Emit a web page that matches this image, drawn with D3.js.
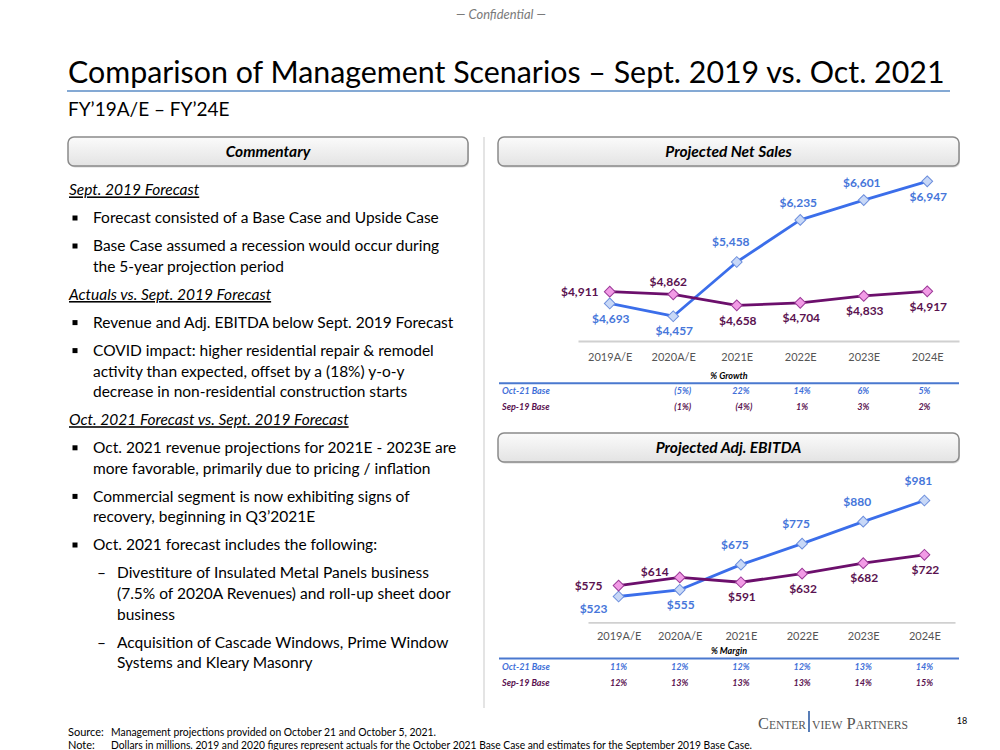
<!DOCTYPE html>
<html>
<head>
<meta charset="utf-8">
<script src="https://cdn.jsdelivr.net/npm/d3@7"></script>
<style>
  body { margin: 0; background: #fff; }
  svg { display: block; }
</style>
</head>
<body>
<script>
// ---- data ----
const years = ["2019A/E", "2020A/E", "2021E", "2022E", "2023E", "2024E"];
const salesOct21 = [4693, 4457, 5458, 6235, 6601, 6947];
const salesSep19 = [4911, 4862, 4658, 4704, 4833, 4917];
const ebitdaOct21 = [523, 555, 675, 775, 880, 981];
const ebitdaSep19 = [575, 614, 591, 632, 682, 722];
const growthOct21 = ["", "(5%)", "22%", "14%", "6%", "5%"];
const growthSep19 = ["", "(1%)", "(4%)", "1%", "3%", "2%"];
const marginOct21 = ["11%", "12%", "12%", "12%", "13%", "14%"];
const marginSep19 = ["12%", "13%", "13%", "13%", "14%", "15%"];
const rowLabels = ["Oct-21 Base", "Sep-19 Base"];

const commentary = [
  ["h", "Sept. 2019 Forecast"],
  ["b", "Forecast consisted of a Base Case and Upside Case"],
  ["b", "Base Case assumed a recession would occur during"],
  ["c", "the 5-year projection period"],
  ["h", "Actuals vs. Sept. 2019 Forecast"],
  ["b", "Revenue and Adj. EBITDA below Sept. 2019 Forecast"],
  ["b", "COVID impact: higher residential repair & remodel"],
  ["c", "activity than expected, offset by a (18%) y-o-y"],
  ["c", "decrease in non-residential construction starts"],
  ["h", "Oct. 2021 Forecast vs. Sept. 2019 Forecast"],
  ["b", "Oct. 2021 revenue projections for 2021E - 2023E are"],
  ["c", "more favorable, primarily due to pricing / inflation"],
  ["b", "Commercial segment is now exhibiting signs of"],
  ["c", "recovery, beginning in Q3\u20192021E"],
  ["b", "Oct. 2021 forecast includes the following:"],
  ["s", "Divestiture of Insulated Metal Panels business"],
  ["sc", "(7.5% of 2020A Revenues) and roll-up sheet door"],
  ["sc", "business"],
  ["s", "Acquisition of Cascade Windows, Prime Window"],
  ["sc", "Systems and Kleary Masonry"]
];

// label placement for each point (layout only)
const place = {
  above: [-2, -17], aboveL: [-6, -20], aboveFar: [-25, -6], aboveS: [-5, -13],
  below: [1, 15], belowL: [-25, 12], left: [-30, 0]
};
const salesOctPos = ["below", "below", "aboveL", "above", "above", "below"];
const salesSepPos = ["left", "aboveS", "below", "below", "below", "below"];
const ebitdaOctPos = ["belowL", "below", "aboveL", "aboveL", "aboveL", "aboveL"];
const ebitdaSepPos = ["left", "aboveFar", "below", "below", "below", "below"];

const blue = "#3B6EEA", blueText = "#4676DA", purple = "#6C0F6C", purpleText = "#5A1250";
const font = "Lato, 'Open Sans', sans-serif";

const svg = d3.select("body").append("svg")
  .attr("width", 1000).attr("height", 750)
  .style("font-family", font);

const defs = svg.append("defs");
const grad = defs.append("linearGradient").attr("id", "hdr")
  .attr("x1", 0).attr("y1", 0).attr("x2", 0).attr("y2", 1);
grad.append("stop").attr("offset", "0%").attr("stop-color", "#fbfbfb");
grad.append("stop").attr("offset", "100%").attr("stop-color", "#e3e3e3");

function fitWidth(sel, target) {
  const size = +sel.attr("font-size");
  const len = sel.node().getComputedTextLength();
  sel.attr("font-size", size * target / len);
}

// header
const conf = svg.append("text")
  .attr("x", 501).attr("y", 19)
  .attr("text-anchor", "middle")
  .attr("font-size", 12).attr("font-style", "italic").attr("fill", "#7a7a7a")
  .text("\u2014 Confidential \u2014");
fitWidth(conf, 90);

const title = svg.append("text")
  .attr("x", 68).attr("y", 83)
  .attr("font-size", 28).attr("fill", "#000")
  .text("Comparison of Management Scenarios \u2013 Sept. 2019 vs. Oct. 2021");
fitWidth(title, 877);

svg.append("line")
  .attr("x1", 67).attr("x2", 950).attr("y1", 91).attr("y2", 91)
  .attr("stroke", "#5B8CC6").attr("stroke-width", 1.3);

svg.append("text")
  .attr("x", 68).attr("y", 116)
  .attr("font-size", 19).attr("fill", "#000")
  .text("FY\u201919A/E \u2013 FY\u201924E");

// section header boxes
function headerBox(x, y, w, h, label) {
  svg.append("rect")
    .attr("x", x + 1).attr("y", y + 1.5).attr("width", w).attr("height", h).attr("rx", 6)
    .attr("fill", "#d8d8d8");
  svg.append("rect")
    .attr("x", x).attr("y", y).attr("width", w).attr("height", h).attr("rx", 6)
    .attr("fill", "url(#hdr)").attr("stroke", "#8a8a8a").attr("stroke-width", 1.5);
  svg.append("text")
    .attr("x", x + w / 2).attr("y", y + h / 2).attr("dy", "0.36em")
    .attr("text-anchor", "middle")
    .attr("font-size", 15.5).attr("font-weight", "bold").attr("font-style", "italic")
    .attr("fill", "#000")
    .text(label);
}
headerBox(68, 137, 400, 29, "Commentary");
headerBox(498, 137, 461, 29, "Projected Net Sales");
headerBox(498, 433, 461, 29, "Projected Adj. EBITDA");

svg.append("line")
  .attr("x1", 484).attr("x2", 484).attr("y1", 137).attr("y2", 708)
  .attr("stroke", "#d2d2d2").attr("stroke-width", 1.2);

// commentary
const cg = svg.append("g");
const probe = cg.append("text").attr("font-size", 16).text(commentary[1][1]);
const bodySize = 16 * 346 / probe.node().getComputedTextLength();
probe.remove();

let cy = 190;
commentary.forEach(([type, txt], i) => {
  if (i > 0) cy += (type === "c" || type === "sc") ? 20.6 : 28;
  let tx = 93;
  if (type === "h") tx = 69;
  if (type === "s" || type === "sc") tx = 117;
  const t = cg.append("text")
    .attr("x", tx).attr("y", cy).attr("dy", "0.35em")
    .attr("font-size", bodySize).attr("fill", "#000")
    .text(txt);
  if (type === "h") t.attr("font-style", "italic").style("text-decoration", "underline");
  if (type === "b") {
    cg.append("rect").attr("x", 72.5).attr("y", cy - 2.5).attr("width", 5).attr("height", 5).attr("fill", "#000");
  }
  if (type === "s") {
    cg.append("text").attr("x", 97).attr("y", cy).attr("dy", "0.35em")
      .attr("font-size", bodySize).text("\u2013");
  }
});

// line charts
function drawChart(cfg) {
  const x = d3.scalePoint().domain(years).range(cfg.xRange).padding(0.5);
  const y = d3.scaleLinear().domain(cfg.yDomain).range(cfg.yRange);
  const g = svg.append("g");

  const axis = g.append("g")
    .attr("transform", `translate(0,${cfg.yRange[0]})`)
    .call(d3.axisBottom(x).tickSize(0).tickPadding(cfg.pad));
  axis.select(".domain").attr("stroke", "#d0d0d0").attr("stroke-width", 1.8);
  axis.selectAll("text")
    .attr("font-size", 11).attr("fill", "#555").attr("font-family", font);

  const line = d3.line().x((d, i) => x(years[i])).y(d => y(d));

  cfg.series.forEach(s => {
    g.append("path")
      .datum(s.values)
      .attr("d", line)
      .attr("fill", "none")
      .attr("stroke", s.color)
      .attr("stroke-width", 2.8)
      .attr("stroke-linejoin", "round");
  });

  cfg.series.forEach(s => {
    g.selectAll(null)
      .data(s.values)
      .join("path")
      .attr("d", d3.symbol(d3.symbolSquare, 58))
      .attr("transform", (d, i) => `translate(${x(years[i])},${y(d)}) rotate(45)`)
      .attr("fill", s.marker)
      .attr("stroke", s.markerStroke)
      .attr("stroke-width", 1);

    g.selectAll(null)
      .data(s.values)
      .join("text")
      .attr("x", (d, i) => x(years[i]) + place[s.pos[i]][0])
      .attr("y", (d, i) => y(d) + place[s.pos[i]][1])
      .attr("dy", "0.35em")
      .attr("text-anchor", "middle")
      .attr("font-size", 12)
      .attr("font-weight", "bold")
      .attr("fill", s.textColor)
      .text(d => d3.format("$,")(d));
  });
}

drawChart({
  xRange: [578, 959], yDomain: [4000, 7000], yRange: [341, 178.5], pad: 12,
  series: [
    { values: salesOct21, color: blue, textColor: blueText, marker: "#C8D8F7", markerStroke: "#6C8EDC", pos: salesOctPos },
    { values: salesSep19, color: purple, textColor: purpleText, marker: "#F29BE6", markerStroke: "#9C3A98", pos: salesSepPos }
  ]
});

drawChart({
  xRange: [588, 955], yDomain: [400, 1000], yRange: [622.3, 496.5], pad: 9.5,
  series: [
    { values: ebitdaOct21, color: blue, textColor: blueText, marker: "#C8D8F7", markerStroke: "#6C8EDC", pos: ebitdaOctPos },
    { values: ebitdaSep19, color: purple, textColor: purpleText, marker: "#F29BE6", markerStroke: "#9C3A98", pos: ebitdaSepPos }
  ]
});

// stat tables under the charts
function drawTable(caption, top, rows) {
  const x = d3.scalePoint().domain(years).range([588, 955]).padding(0.5);
  const g = svg.append("g").attr("font-weight", "bold").attr("font-style", "italic");
  g.append("text")
    .attr("x", 729).attr("y", top).attr("dy", "0.35em")
    .attr("text-anchor", "middle").attr("font-size", 9).attr("fill", "#000")
    .text(caption);
  g.append("line")
    .attr("x1", 499).attr("x2", 959).attr("y1", top + 7.6).attr("y2", top + 7.6)
    .attr("stroke", "#4A78CF").attr("stroke-width", 2);
  rows.forEach((r, ri) => {
    const ry = top + 15.5 + ri * 16;
    const color = ri === 0 ? "#3F6FD8" : purpleText;
    g.append("text")
      .attr("x", 502).attr("y", ry).attr("dy", "0.35em")
      .attr("font-size", 9).attr("fill", color)
      .text(rowLabels[ri]);
    g.selectAll(null)
      .data(r)
      .join("text")
      .attr("x", (d, i) => x(years[i]) + (d.startsWith("(") ? 3 : 0))
      .attr("y", ry).attr("dy", "0.35em")
      .attr("text-anchor", "middle")
      .attr("font-size", 9).attr("fill", color)
      .text(d => d);
  });
}
drawTable("% Growth", 375.7, [growthOct21, growthSep19]);
drawTable("% Margin", 651, [marginOct21, marginSep19]);

// footer
const foot = svg.append("g").attr("font-size", 11).attr("fill", "#000");
foot.append("text").attr("x", 68).attr("y", 736).text("Source:");
foot.append("text").attr("x", 111).attr("y", 736)
  .attr("textLength", 325).attr("lengthAdjust", "spacingAndGlyphs")
  .text("Management projections provided on October 21 and October 5, 2021.");
foot.append("text").attr("x", 68).attr("y", 749).text("Note:");
foot.append("text").attr("x", 111).attr("y", 749)
  .attr("textLength", 641).attr("lengthAdjust", "spacingAndGlyphs")
  .text("Dollars in millions. 2019 and 2020 figures represent actuals for the October 2021 Base Case and estimates for the September 2019 Base Case.");

// logo and page number
const logo = svg.append("g").attr("fill", "#555")
  .attr("font-family", "'Liberation Serif', 'DejaVu Serif', serif")
  .style("font-variant", "small-caps");
logo.append("text").attr("x", 758).attr("y", 728.5).attr("font-size", 17)
  .attr("textLength", 48).attr("lengthAdjust", "spacingAndGlyphs").text("Center");
logo.append("text").attr("x", 812).attr("y", 728.5).attr("font-size", 17)
  .attr("textLength", 96).attr("lengthAdjust", "spacingAndGlyphs").text("view Partners");
svg.append("line")
  .attr("x1", 809).attr("x2", 809).attr("y1", 711).attr("y2", 732)
  .attr("stroke", "#2F5DA6").attr("stroke-width", 1.6);
svg.append("text")
  .attr("x", 962).attr("y", 724).attr("text-anchor", "middle")
  .attr("font-size", 9).attr("fill", "#000").text("18");
</script>
</body>
</html>
